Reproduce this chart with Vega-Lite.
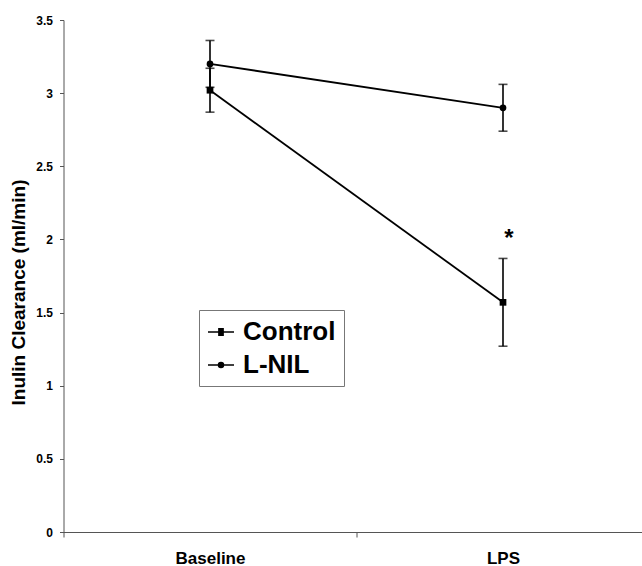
{
  "$schema": "https://vega.github.io/schema/vega-lite/v6.json",
  "autosize": "none",
  "padding": {"left": 63.5, "top": 20, "right": 0, "bottom": 34},
  "width": 578.5,
  "height": 512,
  "background": "white",
  "data": {
    "values": [
      {"condition": "Baseline", "group": "Control", "value": 3.02, "lo": 2.87, "hi": 3.17},
      {"condition": "LPS", "group": "Control", "value": 1.57, "lo": 1.27, "hi": 1.87},
      {"condition": "Baseline", "group": "L-NIL", "value": 3.2, "lo": 3.04, "hi": 3.36},
      {"condition": "LPS", "group": "L-NIL", "value": 2.9, "lo": 2.74, "hi": 3.06}
    ]
  },
  "encoding": {
    "x": {
      "field": "condition",
      "type": "nominal",
      "sort": ["Baseline", "LPS"],
      "scale": {"domain": ["Baseline", "LPS"], "range": [0, 586], "paddingInner": 0, "paddingOuter": 0},
      "axis": {
        "title": null,
        "labelAngle": 0,
        "tickBand": "extent",
        "tickSize": 5,
        "labelPadding": 13,
        "labelFontSize": 17,
        "labelFontWeight": "bold",
        "labelFont": "Liberation Sans",
        "labelColor": "black",
        "domainColor": "#555",
        "tickColor": "#555",
        "encode": {"ticks": {"update": {"y": {"value": -5}}}}
      }
    }
  },
  "layer": [
    {
      "mark": {"type": "line", "color": "black", "strokeWidth": 1.8},
      "encoding": {
        "y": {
          "field": "value",
          "type": "quantitative",
          "scale": {"domain": [0, 3.5], "nice": false},
          "axis": {
            "values": [0, 0.5, 1, 1.5, 2, 2.5, 3, 3.5],
            "format": "~g",
            "grid": false,
            "title": "Inulin Clearance (ml/min)",
            "titleFont": "Liberation Sans",
            "titleFontSize": 19,
            "titleFontWeight": "bold",
            "titleColor": "black",
            "titlePadding": 7,
            "titleY": 272,
            "labelFont": "Liberation Sans",
            "labelFontSize": 12,
            "labelFontWeight": "bold",
            "labelColor": "black",
            "labelPadding": 7,
            "tickSize": 4,
            "domainColor": "#555",
            "tickColor": "#555",
            "encode": {"ticks": {"update": {"x": {"value": 4}}}}
          }
        },
        "detail": {"field": "group"}
      }
    },
    {
      "mark": {"type": "rule", "color": "black", "strokeWidth": 1.6},
      "encoding": {
        "y": {"field": "lo", "type": "quantitative"},
        "y2": {"field": "hi"}
      }
    },
    {
      "mark": {"type": "tick", "color": "black", "size": 9, "thickness": 1.6},
      "encoding": {"y": {"field": "lo", "type": "quantitative"}}
    },
    {
      "mark": {"type": "tick", "color": "black", "size": 9, "thickness": 1.6},
      "encoding": {"y": {"field": "hi", "type": "quantitative"}}
    },
    {
      "mark": {"type": "point", "filled": true, "color": "black", "opacity": 1, "size": 45},
      "encoding": {
        "y": {"field": "value", "type": "quantitative"},
        "shape": {
          "field": "group",
          "type": "nominal",
          "scale": {"domain": ["Control", "L-NIL"], "range": ["square", "circle"]},
          "legend": null
        }
      }
    },
    {
      "mark": {"type": "point", "filled": false, "color": "black", "strokeWidth": 1.5, "opacity": 0},
      "encoding": {
        "y": {"field": "value", "type": "quantitative"},
        "shape": {
          "field": "group",
          "type": "nominal",
          "scale": {
            "domain": ["Control", "L-NIL"],
            "range": [
              "M-1,0H1M-0.22,-0.24H0.22M-0.22,-0.16H0.22M-0.22,-0.08H0.22M-0.22,0.08H0.22M-0.22,0.16H0.22M-0.22,0.24H0.22",
              "M-1,0H1M0.19,0A0.19,0.19,0,1,1,-0.19,0A0.19,0.19,0,1,1,0.19,0M-0.14,-0.1H0.14M-0.14,0.1H0.14M-0.17,-0.05H0.17M-0.17,0.05H0.17M-0.08,-0.16H0.08M-0.08,0.16H0.08"
            ]
          },
          "legend": {
            "orient": "none",
            "legendX": 135.5,
            "legendY": 290,
            "title": null,
            "strokeColor": "#777",
            "padding": 8,
            "symbolSize": 676,
            "symbolOpacity": 1,
            "symbolStrokeColor": "black",
            "symbolStrokeWidth": 1.6,
            "labelFont": "Liberation Sans",
            "labelFontSize": 26,
            "labelFontWeight": "bold",
            "labelColor": "black",
            "labelOffset": 8,
            "rowPadding": 6
          }
        }
      }
    },
    {
      "data": {"values": [{"condition": "LPS", "value": 2.0, "label": "*"}]},
      "mark": {"type": "text", "font": "Liberation Sans", "fontSize": 24, "fontWeight": "bold", "color": "black", "dx": 6, "baseline": "middle"},
      "encoding": {
        "y": {"field": "value", "type": "quantitative"},
        "text": {"field": "label"}
      }
    }
  ],
  "resolve": {"scale": {"shape": "independent"}, "legend": {"shape": "independent"}},
  "config": {"view": {"stroke": null}}
}
